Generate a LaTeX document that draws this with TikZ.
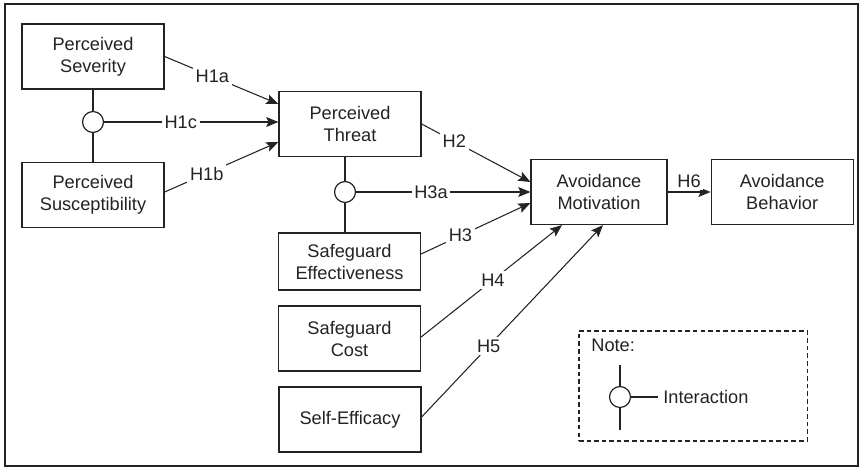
\documentclass[tikz,border=0pt]{standalone}
\usepackage{fontspec}
\setmainfont{Liberation Sans}
\usetikzlibrary{positioning,calc,arrows.meta}
\definecolor{lineGray}{RGB}{35,35,35}
\tikzset{
    construct/.style={
        draw=lineGray,
        line width=0.8pt,
        fill=white,
        minimum width=93.6pt,
        minimum height=42.8pt,
        inner sep=0pt,
        align=center,
        text=lineGray,
        font=\fontsize{12}{14.5}\selectfont
    },
    ptr/.style={
        -{Stealth[length=8pt,width=6.5pt,inset=1.5pt]},
        line width=0.7pt,
        draw=lineGray
    },
    hyp/.style={fill=white, inner sep=1.8pt, text=lineGray, font=\fontsize{12}{14}\selectfont},
    interact/.style={circle, draw=lineGray, line width=0.8pt, fill=white, minimum size=13.8pt, inner sep=0pt}
}

\begin{document}
\begin{tikzpicture}[x=0.659pt, y=-0.659pt]
                \useasboundingbox (0,0) rectangle (863,470);
                \draw[lineGray, line width=0.8pt] (5,4) rectangle (858,466);

                \node[construct] (sev) at (93,56.5) {Perceived\\Severity};
                \node[construct] (sus) at (93,195) {Perceived\\Susceptibility};
                \node[construct] (threat) at (350,124) {Perceived\\Threat};
                \node[construct, minimum height=37.6pt] (eff) at (349.5,261.5) {Safeguard\\Effectiveness};
                \node[construct] (cost) at (349.5,338.5) {Safeguard\\Cost};
                \node[construct] (self) at (350,419.5) {Self-Efficacy};
                \node[construct, minimum width=89.6pt] (motiv) at (599,192) {Avoidance\\Motivation};
                \node[construct, right=28.3pt of motiv] (behav) {Avoidance\\Behavior};

                % Interaktionsterme
                \node[interact] (int1) at (93,122) {};
                \node[interact] (int2) at (345,192) {};
                \draw[lineGray, line width=0.7pt] (sev) -- (int1) -- (sus);
                \draw[lineGray, line width=0.7pt] (int2 |- threat.south) -- (int2) -- (int2 |- eff.north);

                \draw[ptr] (sev.east) -- ($(threat.west)+(0,-20)$) node[hyp, pos=0.42] {H1a};
                \draw[ptr] (int1) -- (int1 -| threat.west) node[hyp, pos=0.44] {H1c};
                \draw[ptr] ($(sus.east)+(0,-3)$) -- ($(threat.west)+(0,18)$) node[hyp, pos=0.37] {H1b};
                \draw[ptr] (threat.east) -- ($(motiv.west)+(0,-10)$) node[hyp, pos=0.30] {H2};
                \draw[ptr] (int2) -- (int2 -| motiv.west) node[hyp, pos=0.43] {H3a};
                \draw[ptr] ($(eff.east)+(0,-7.5)$) -- ($(motiv.west)+(0,11)$) node[hyp, pos=0.36] {H3};
                \draw[ptr] ($(cost.east)+(0,-1.5)$) -- ($(motiv.south)+(-37,0)$) node[hyp, pos=0.51] {H4};
                \draw[ptr] ($(self.east)+(0,-2.5)$) -- ($(motiv.south)+(4,0)$) node[hyp, pos=0.37] {H5};
                \draw[ptr] (motiv.east) -- (motiv.east -| behav.west) node[hyp, midway, above=1pt] {H6};

                % Legende
                \node[draw=lineGray, line width=0.7pt, dash pattern=on 3pt off 2pt,
                      minimum width=150.3pt, minimum height=72.5pt] (note) at (693,386) {};
                \node[anchor=west, text=lineGray, font=\fontsize{12}{14}\selectfont] (notelbl) at (586,345) {Note:};
                \node[interact] (int3) at (620,397) {};
                \coordinate (legtop) at (620,365);
                \coordinate (legbot) at (620,430);
                \coordinate (legright) at (658,397);
                \draw[lineGray, line width=0.7pt] (legtop) -- (int3) -- (legbot);
                \draw[lineGray, line width=0.7pt] (int3) -- (legright);
                \node[anchor=west, text=lineGray, font=\fontsize{12}{14}\selectfont] (intlbl) at (legright) {Interaction};
            \end{tikzpicture}
\end{document}
